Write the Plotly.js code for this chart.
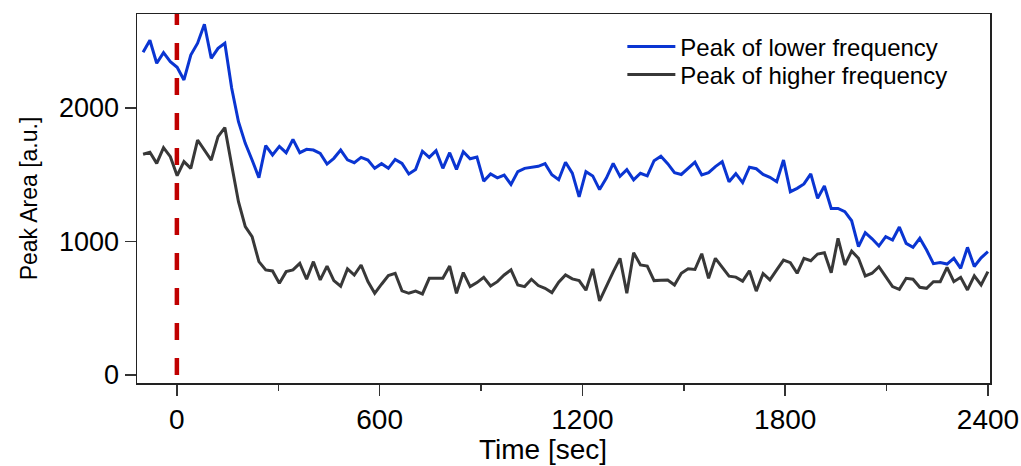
<!DOCTYPE html>
<html>
<head>
<meta charset="utf-8">
<script src="https://cdn.plot.ly/plotly-3.0.1.min.js"></script>
<style>
  html, body { margin: 0; padding: 0; background: #ffffff; }
  #chart { width: 1021px; height: 466px; }
</style>
</head>
<body>
<div id="chart"></div>
<script>
// Sampling of the acquisition (seconds)
const sampleStart = -100;
const sampleStep = 20.16;

// Peak of lower frequency (blue)
const lowerFreq = [
  2417,2507,2335,2415,2347,2305,2210,2397,2485,2627,2372,2447,2485,2150,1897,1735,1610,1478,1718,1648,
  1712,1665,1765,1665,1690,1685,1660,1580,1623,1685,1612,1590,1630,1610,1548,1583,1548,1615,1585,1506,
  1540,1676,1630,1680,1548,1665,1540,1673,1620,1632,1452,1506,1477,1498,1427,1523,1548,1556,1563,1583,
  1500,1463,1593,1512,1334,1523,1491,1389,1475,1585,1488,1538,1461,1511,1491,1605,1638,1583,1516,1502,
  1545,1594,1498,1515,1561,1598,1448,1508,1441,1556,1545,1502,1481,1448,1610,1373,1398,1431,1506,1323,
  1416,1248,1248,1223,1155,961,1066,1020,966,1036,1011,1108,986,956,1024,936,834,843,831,874,
  799,956,813,878,924
];

// Peak of higher frequency (dark grey)
const higherFreq = [
  1653,1668,1585,1703,1635,1493,1598,1548,1760,1685,1610,1785,1853,1573,1298,1111,1036,849,787,779,
  687,774,787,836,717,849,712,816,707,665,795,749,824,700,612,680,745,762,630,612,
  628,607,724,724,724,816,612,767,662,692,732,667,699,749,787,674,662,717,670,649,
  617,695,749,720,707,635,795,555,667,772,874,612,916,824,816,707,710,712,674,762,
  795,790,908,724,874,811,740,733,703,781,628,760,712,787,861,841,762,874,856,906,
  916,766,1024,824,928,874,742,762,811,737,662,642,724,717,657,649,699,699,806,699,
  732,637,742,674,774
];

const time = lowerFreq.map((_, i) => sampleStart + i * sampleStep);

// Event marker (start of treatment) and its vertical extent
const eventTime = [0, 0];
const eventSpan = [0, 2800];

const seriesNames = ["Peak of lower frequency", "Peak of higher frequency"];
const xTicks = [0, 600, 1200, 1800, 2400];
const yTicks = [0, 1000, 2000];
const xTitle = "Time [sec]";
const yTitle = "Peak Area [a.u.]";

const FONT = "Liberation Sans, Arial, Helvetica, sans-serif";

const traces = [
  {
    x: eventTime, y: eventSpan, mode: "lines", showlegend: false, hoverinfo: "skip",
    line: { color: "#c00000", width: 4.5, dash: "17px,18px" }
  },
  {
    x: time, y: lowerFreq, mode: "lines", name: seriesNames[0], legend: "legend",
    line: { color: "#0a35d2", width: 3 }
  },
  {
    x: time, y: higherFreq, mode: "lines", name: seriesNames[1], legend: "legend2",
    line: { color: "#383838", width: 3 }
  }
];

const legendBase = {
  xanchor: "left", yanchor: "middle",
  bgcolor: "rgba(255,255,255,0)", borderwidth: 0,
  font: { family: FONT, size: 24, color: "#000000" },
  itemwidth: 48
};

const layout = {
  width: 1021, height: 466,
  margin: { l: 137, r: 31, t: 14, b: 83, pad: 0 },
  paper_bgcolor: "#ffffff", plot_bgcolor: "#ffffff",
  font: { family: FONT, size: 26, color: "#000000" },
  showlegend: true,
  legend: Object.assign({}, legendBase, { x: 0.569, y: 0.9106 }),
  legend2: Object.assign({}, legendBase, { x: 0.569, y: 0.8347 }),
  xaxis: {
    range: [-118, 2406],
    tickvals: xTicks, ticktext: xTicks.map(String),
    ticks: "outside", ticklen: 11, tickwidth: 1.5, tickcolor: "#333333",
    minor: { dtick: 300, tick0: 0, ticks: "outside", ticklen: 6, tickwidth: 1.5, tickcolor: "#333333" },
    showline: true, linecolor: "#222222", linewidth: 1.5, mirror: true,
    showgrid: false, zeroline: false,
    tickfont: { family: FONT, size: 28, color: "#000000" }
  },
  yaxis: {
    range: [-60, 2704],
    tickvals: yTicks, ticktext: yTicks.map(String),
    ticks: "outside", ticklen: 11, tickwidth: 1.5, tickcolor: "#333333",
    showline: true, linecolor: "#222222", linewidth: 1.5, mirror: true,
    showgrid: false, zeroline: false,
    tickfont: { family: FONT, size: 27, color: "#000000" },
    title: { text: yTitle, font: { family: FONT, size: 23, color: "#000000" }, standoff: 15 }
  },
  annotations: [
    {
      text: xTitle, xref: "paper", yref: "paper", x: 0.476, y: -0.18,
      xanchor: "center", yanchor: "middle", showarrow: false,
      font: { family: FONT, size: 28, color: "#000000" }
    }
  ]
};

Plotly.newPlot("chart", traces, layout, { staticPlot: true, displayModeBar: false });
</script>
</body>
</html>
